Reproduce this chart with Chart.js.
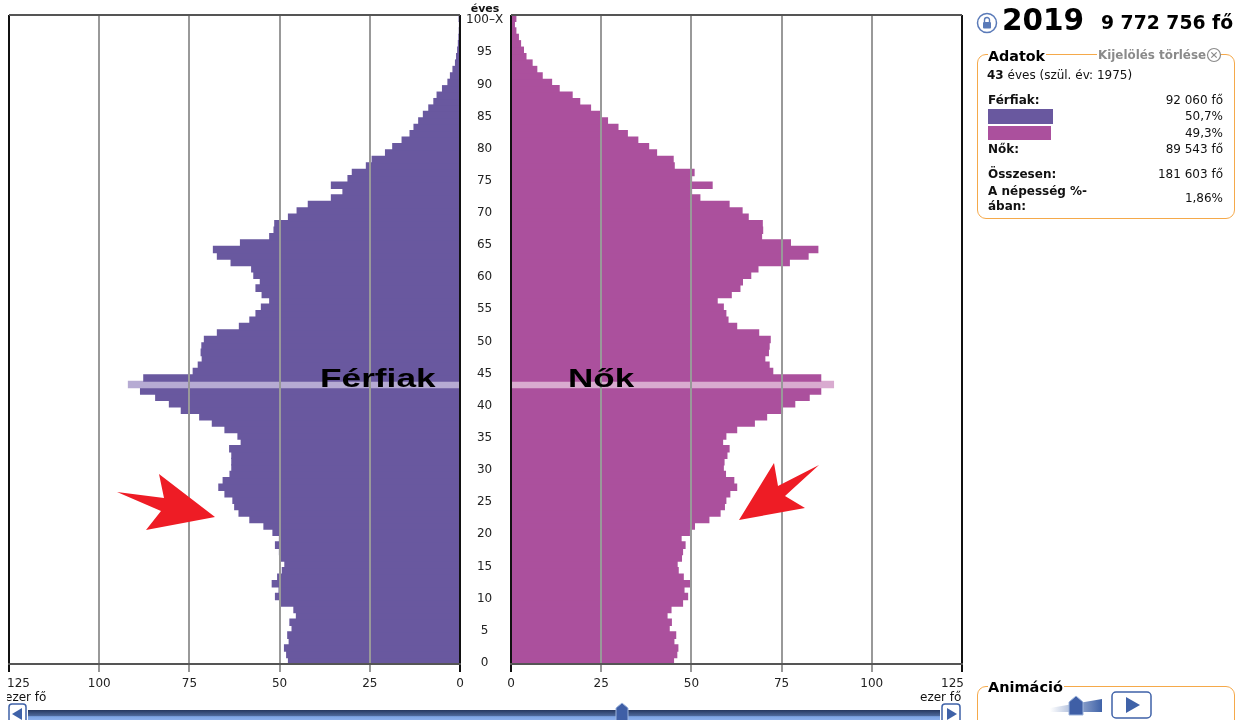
<!DOCTYPE html>
<html lang="hu">
<head>
<meta charset="utf-8">
<title>Korfa 2019</title>
<script src="https://cdn.jsdelivr.net/npm/chart.js@4"></script>
<style>
  html, body { margin: 0; padding: 0; background: #fff; overflow: hidden; }
  body { width: 1243px; height: 720px; position: relative; font-family: "DejaVu Sans", sans-serif; color: #111; }
  canvas { position: absolute; top: 0; }
  #maleChart { left: 0; }
  #femaleChart { left: 500px; }
  svg.overlay { position: absolute; left: 0; top: 0; }
  .t { position: absolute; white-space: nowrap; line-height: 1; }
  .b { font-weight: bold; }
  .r { text-align: right; right: 20px; font-size: 12px; }
  .l { left: 988px; font-size: 12px; }
  .big { font-family: "Liberation Sans", sans-serif; font-weight: bold; font-size: 25px; color: #000; transform-origin: left center; }
  .box { position: absolute; border: 1.5px solid #f5a94a; border-radius: 9px; box-sizing: border-box; }
  .lg { background: #fff; padding-right: 1px; }
</style>
</head>
<body>
<canvas id="maleChart" width="510" height="720"></canvas>
<canvas id="femaleChart" width="480" height="720"></canvas>

<svg class="overlay" width="1243" height="720">
  <defs>
    <linearGradient id="track" x1="0" y1="0" x2="0" y2="1">
      <stop offset="0" stop-color="#26375f"/>
      <stop offset="0.55" stop-color="#4f6a9e"/>
      <stop offset="0.6" stop-color="#7ea4e4"/>
      <stop offset="1" stop-color="#8fb2ee"/>
    </linearGradient>
    <linearGradient id="ramp" x1="0" y1="0" x2="1" y2="0">
      <stop offset="0" stop-color="#ffffff"/>
      <stop offset="1" stop-color="#3f62a8"/>
    </linearGradient>
  </defs>
  <!-- red arrows -->
  <polygon fill="#ee1c25" points="117,492 164,498 159,474 215,517 146,530 161,511"/>
  <polygon fill="#ee1c25" points="739,520 805,508 785,496 819,465 778,486 774,463"/>
  <!-- year slider -->
  <rect x="28" y="710" width="912" height="11" fill="url(#track)"/>
  <rect x="9" y="704" width="17" height="20" rx="3" fill="#fff" stroke="#3f62a8" stroke-width="1.5"/>
  <polygon points="22,708 22,720 12,714" fill="#3f62a8"/>
  <rect x="942" y="704" width="18" height="20" rx="3" fill="#fff" stroke="#3f62a8" stroke-width="1.5"/>
  <polygon points="947,708 947,720 957,714" fill="#3f62a8"/>
  <polygon points="622,703 628,708 628,721 616,721 616,708" fill="#3f5fa6" stroke="#9db4dc"/>
  <!-- animation speed + play -->
  <polygon points="1050,708 1102,699 1102,712 1050,712" fill="url(#ramp)"/>
  <polygon points="1076,696 1083,702 1083,715 1069,715 1069,702" fill="#3f5fa6" stroke="#9db4dc"/>
  <rect x="1112" y="692" width="39" height="26" rx="4" fill="#fff" stroke="#3f62a8" stroke-width="1.5"/>
  <polygon points="1126,697 1126,713 1140,705" fill="#3f62a8"/>
  <!-- lock icon -->
  <circle cx="987" cy="23" r="9.5" fill="#fff" stroke="#5a7ab8" stroke-width="1.5"/>
  <rect x="983" y="22" width="8" height="6.5" rx="1" fill="#5a7ab8"/>
  <path d="M984.5 22 v-2 a2.5 2.5 0 0 1 5 0 v2" fill="none" stroke="#5a7ab8" stroke-width="1.4"/>
</svg>

<div class="t" style="left:465px;top:3px;width:40px;text-align:center;font-size:11px;font-weight:bold">éves</div>
<div class="t big" style="left:320px;top:366px;transform:scaleX(1.41)">Férfiak</div>
<div class="t big" style="left:568px;top:366px;transform:scaleX(1.4)">Nők</div>
<div class="t" style="left:7px;top:691px;width:41px;overflow:hidden;font-size:12px;text-indent:-2px">ezer fő</div>
<div class="t" style="left:920px;top:691px;font-size:12px">ezer fő</div>

<div class="t b" style="left:1002px;top:6px;font-size:29.5px;color:#000">2019</div>
<div class="t b" style="left:1101px;top:14px;font-size:18.8px;color:#000">9 772 756 fő</div>

<div class="box" style="left:977px;top:54px;width:258px;height:165px"></div>
<div class="t b lg" style="left:988px;top:49px;font-size:14.3px;color:#000">Adatok</div>
<div class="t b lg" style="left:1097px;top:50px;font-size:11.9px;color:#8a8a8a;padding-left:1px">Kijelölés törlése</div>
<svg class="overlay" width="1243" height="720" style="pointer-events:none">
  <circle cx="1214" cy="55" r="6.5" fill="#fff" stroke="#8a8a8a" stroke-width="1.2"/>
  <path d="M1211.3 52.3 l5.4 5.4 M1216.7 52.3 l-5.4 5.4" stroke="#8a8a8a" stroke-width="1.2"/>
</svg>
<div class="t" style="left:987px;top:69px;font-size:12px"><b>43</b> éves (szül. év: 1975)</div>
<div class="t l b" style="top:94px">Férfiak:</div>
<div class="t r" style="top:94px">92 060 fő</div>
<div style="position:absolute;left:988px;top:109px;width:65px;height:15px;background:#69589f"></div>
<div class="t r" style="top:110px">50,7%</div>
<div style="position:absolute;left:988px;top:126px;width:63px;height:14px;background:#ab509d"></div>
<div class="t r" style="top:127px">49,3%</div>
<div class="t l b" style="top:143px">Nők:</div>
<div class="t r" style="top:143px">89 543 fő</div>
<div class="t l b" style="top:168px">Összesen:</div>
<div class="t r" style="top:168px">181 603 fő</div>
<div class="t l b" style="top:185px">A népesség %-</div>
<div class="t l b" style="top:200px">ában:</div>
<div class="t r" style="top:192px">1,86%</div>

<div class="box" style="left:977px;top:686px;width:258px;height:60px"></div>
<div class="t b lg" style="left:988px;top:680px;font-size:14.5px;color:#000">Animáció</div>

<script>
const selectedAge = 43;

// 0 .. 100-X
const ageLabels = Array.from({ length: 101 }, (_, i) => i === 100 ? '100–X' : String(i));

// ezer fo, index = age
const maleValues = [
  47.7, 48.2, 48.8, 47.5, 47.9, 46.7, 47.3, 45.5, 46.2, 49.8,
  51.3, 50.3, 52.2, 50.7, 49.4, 48.7, 49.8, 50.2, 51.3, 50.2,
  52.0, 54.5, 58.4, 61.4, 62.6, 63.1, 65.3, 67.0, 65.8, 63.9,
  63.4, 63.4, 63.4, 64.0, 60.8, 61.7, 65.3, 68.8, 72.3, 77.4,
  80.7, 84.5, 88.7, 92.06, 87.8, 74.1, 72.7, 71.6, 71.9, 71.7,
  71.0, 67.4, 61.3, 58.4, 56.7, 55.2, 52.9, 55.0, 56.7, 55.5,
  57.3, 57.9, 63.6, 67.4, 68.5, 61.0, 52.9, 51.7, 51.5, 47.7,
  45.3, 42.2, 35.8, 32.6, 35.8, 31.2, 30.0, 26.1, 24.5, 20.8,
  18.8, 16.2, 14.0, 12.9, 11.6, 10.3, 8.8, 7.4, 6.5, 5.0,
  3.5, 2.8, 2.1, 1.4, 1.1, 0.8, 0.6, 0.45, 0.35, 0.3,
  0.4
];
const femaleValues = [
  45.2, 46.1, 46.4, 45.3, 45.8, 44.0, 44.6, 43.4, 44.5, 47.7,
  49.1, 48.1, 49.9, 47.9, 46.5, 46.2, 47.4, 47.7, 48.4, 47.3,
  49.6, 51.0, 55.0, 58.1, 59.3, 59.7, 60.8, 62.7, 61.9, 59.6,
  59.0, 59.2, 60.0, 60.6, 58.8, 59.7, 62.7, 67.6, 71.0, 75.4,
  78.8, 82.8, 86.0, 89.54, 86.0, 72.7, 71.7, 70.5, 71.5, 71.7,
  72.0, 68.8, 62.7, 60.3, 59.7, 59.0, 57.3, 61.2, 63.6, 64.3,
  66.6, 68.6, 77.3, 82.5, 85.2, 77.6, 69.6, 69.9, 69.8, 65.9,
  64.2, 60.6, 52.5, 50.2, 55.9, 50.2, 50.9, 45.4, 45.1, 40.5,
  38.3, 35.3, 32.4, 29.8, 26.9, 25.0, 22.2, 19.2, 17.1, 13.5,
  11.4, 8.8, 7.3, 6.0, 4.3, 3.6, 2.8, 2.2, 1.5, 1.1,
  1.5
];

const tickFont = { family: '"DejaVu Sans", sans-serif', size: 12 };

const topLine = {
  id: 'topLine',
  afterDraw(chart) {
    const { ctx, chartArea } = chart;
    ctx.save();
    ctx.strokeStyle = '#555';
    ctx.lineWidth = 2;
    ctx.beginPath();
    ctx.moveTo(chartArea.left, chartArea.top);
    ctx.lineTo(chartArea.right, chartArea.top);
    ctx.stroke();
    ctx.restore();
  }
};

function xAxis(reverse, edgeLabel) {
  return {
    type: 'linear',
    min: 0,
    max: 125,
    reverse: reverse,
    afterFit(scale) {
      // labels may hang over the plot edge, keep the plot where it is
      scale.height = 56;
      scale.paddingLeft = 0;
      scale.paddingRight = 0;
    },
    border: { color: '#555', width: 2, z: 1 },
    grid: {
      z: 1,
      tickLength: 8,
      lineWidth: 2,
      color: ctx => (ctx.tick.value === 0 || ctx.tick.value === 125) ? '#111' : '#999'
    },
    ticks: {
      stepSize: 25,
      maxRotation: 0,
      padding: 5,
      color: '#222',
      font: tickFont,
      callback: v => v === 125 ? edgeLabel : String(v)
    }
  };
}

function makeChart(id, values, color, lightColor, reverse, edgeLabel, padding, showAges) {
  return new Chart(document.getElementById(id), {
    type: 'bar',
    data: {
      labels: ageLabels,
      datasets: [{
        data: values,
        backgroundColor: ctx => ctx.dataIndex === selectedAge ? lightColor : color,
        // neighbours overlap by just over a pixel so no light seams show
        barPercentage: 1.18,
        categoryPercentage: 1,
        borderWidth: 0
      }]
    },
    options: {
      indexAxis: 'y',
      responsive: false,
      animation: false,
      devicePixelRatio: 1,
      layout: { padding: padding },
      plugins: { legend: { display: false }, tooltip: { enabled: false } },
      scales: {
        x: xAxis(reverse, edgeLabel),
        y: {
          type: 'category',
          reverse: true,
          position: reverse ? 'right' : 'left',
          display: showAges,
          afterFit(scale) { scale.width = showAges ? 50 : 0; },
          border: { display: false },
          grid: { display: false, drawTicks: false },
          ticks: {
            autoSkip: false,
            maxRotation: 0,
            crossAlign: 'center',
            padding: 6,
            labelOffset: 2,
            color: '#222',
            font: tickFont,
            callback(value, index) {
              return index % 5 === 0 ? ageLabels[index] : '';
            }
          }
        }
      }
    },
    plugins: [topLine]
  });
}

makeChart('maleChart', maleValues, '#69589f', '#b6abd3', true, '     125', { left: 9, top: 15, right: 0, bottom: 0 }, true);
makeChart('femaleChart', femaleValues, '#ab509d', '#d9abd0', false, '125     ', { left: 11, top: 15, right: 18, bottom: 0 }, false);
</script>
</body>
</html>
